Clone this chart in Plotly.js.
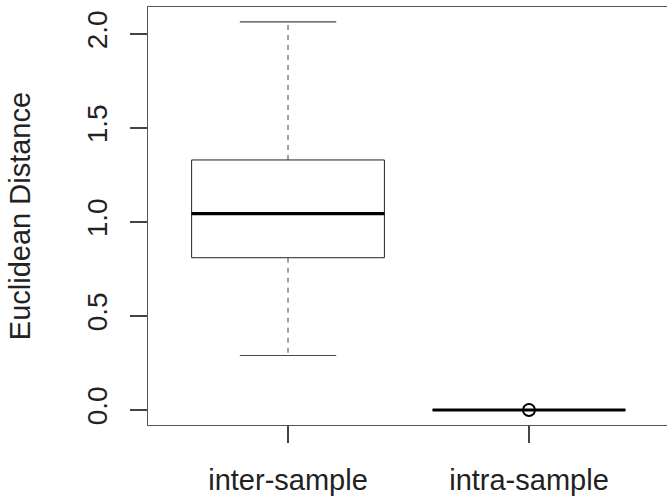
<!DOCTYPE html>
<html>
<head>
<meta charset="utf-8">
<script src="https://cdn.plot.ly/plotly-3.0.1.min.js"></script>
<style>
html, body { margin: 0; padding: 0; overflow: hidden; background: #fff; }
#chart { width: 670px; height: 498px; }
</style>
</head>
<body>
<div id="chart"></div>
<script>
// Data
var categories = ["inter-sample", "intra-sample"];
var q1 = [0.81, 0.0];
var medians = [1.045, 0.0];
var q3 = [1.33, 0.0];
var whiskerLow = [0.29, 0.0];
var whiskerHigh = [2.065, 0.0];
var outliers = [[], [0.0]];
var yTickVals = [0.0, 0.5, 1.0, 1.5, 2.0];

var halfW = 0.4;
var traces = [];
var thin = "#222";
categories.forEach(function (cat, i) {
  var x = i + 1;
  // whiskers (dashed)
  traces.push({type: "scatter", mode: "lines", x: [x, x], y: [q3[i], whiskerHigh[i]],
    line: {color: "#444", width: 1, dash: "5px,5px"}, hoverinfo: "skip"});
  traces.push({type: "scatter", mode: "lines", x: [x, x], y: [q1[i], whiskerLow[i]],
    line: {color: "#444", width: 1, dash: "5px,5px"}, hoverinfo: "skip"});
  // caps
  traces.push({type: "scatter", mode: "lines", x: [x - halfW / 2, x + halfW / 2], y: [whiskerHigh[i], whiskerHigh[i]],
    line: {color: "#444", width: 1.2}, hoverinfo: "skip"});
  traces.push({type: "scatter", mode: "lines", x: [x - halfW / 2, x + halfW / 2], y: [whiskerLow[i], whiskerLow[i]],
    line: {color: "#444", width: 1.2}, hoverinfo: "skip"});
  // box
  traces.push({type: "scatter", mode: "lines",
    x: [x - halfW, x + halfW, x + halfW, x - halfW, x - halfW],
    y: [q1[i], q1[i], q3[i], q3[i], q1[i]],
    line: {color: thin, width: 1}, hoverinfo: "skip"});
  // median
  traces.push({type: "scatter", mode: "lines", x: [x - halfW, x + halfW], y: [medians[i], medians[i]],
    line: {color: "#000", width: 3.2}, hoverinfo: "skip"});
  // outliers
  if (outliers[i].length) {
    traces.push({type: "scatter", mode: "markers",
      x: outliers[i].map(function () { return x; }), y: outliers[i],
      marker: {symbol: "circle-open", size: 12, color: "#000", line: {width: 1.8, color: "#000"}},
      hoverinfo: "skip"});
  }
});

var font = {family: "Liberation Sans, Arial, Helvetica, sans-serif", size: 29, color: "#222"};

var layout = {
  width: 670, height: 498,
  margin: {l: 148, r: 1, t: 7, b: 73},
  paper_bgcolor: "#fff", plot_bgcolor: "#fff",
  showlegend: false, hovermode: false,
  font: font,
  xaxis: {
    range: [0.419, 2.581],
    tickvals: categories.map(function (c, i) { return i + 1; }),
    ticktext: categories,
    ticks: "outside", ticklen: 17, tickwidth: 1.2, tickcolor: "#444",
    showgrid: false, zeroline: false,
    showline: true, mirror: true, linecolor: "#555", linewidth: 1.2,
    tickfont: {family: font.family, size: 29, color: "#222"},
    ticklabelstandoff: 12
  },
  yaxis: {
    range: [-0.0798, 2.1436],
    tickvals: yTickVals,
    ticktext: yTickVals.map(function (v) { return v.toFixed(1); }),
    tickangle: -90,
    ticks: "outside", ticklen: 17, tickwidth: 1.2, tickcolor: "#444",
    showgrid: false, zeroline: false,
    showline: true, mirror: true, linecolor: "#555", linewidth: 1.2,
    tickfont: {family: font.family, size: 28, color: "#222"},
    ticklabelstandoff: 12,
    title: {text: "Euclidean Distance", font: {family: font.family, size: 29, color: "#222"}, standoff: 42}
  }
};

Plotly.newPlot("chart", traces, layout, {displayModeBar: false, staticPlot: true});
</script>
</body>
</html>
